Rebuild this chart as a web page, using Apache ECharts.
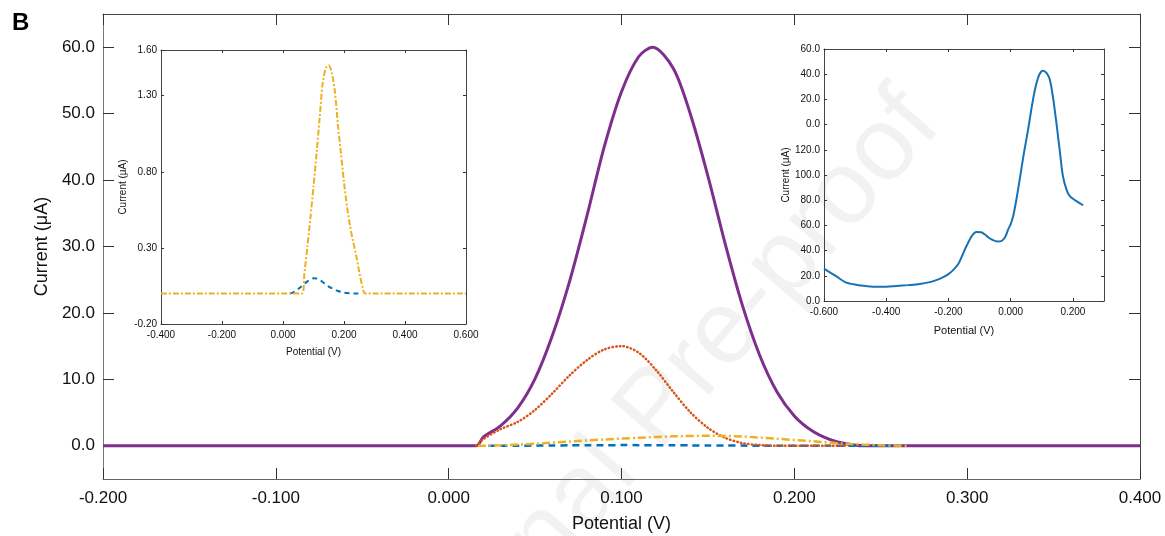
<!DOCTYPE html>
<html><head><meta charset="utf-8">
<script src="https://cdn.jsdelivr.net/npm/echarts@6/dist/echarts.min.js"></script>
<style>html,body{margin:0;padding:0;background:#fff}#c{width:1165px;height:536px}</style>
</head><body><div id="c"></div>
<script>
// ---------- tick labels ----------
const mainXTicks = [-0.2, -0.1, 0, 0.1, 0.2, 0.3, 0.4];
const mainYTicks = [0, 10, 20, 30, 40, 50, 60];
const insetLeftXTicks = [-0.4, -0.2, 0, 0.2, 0.4, 0.6];
const insetLeftYTicks = [-0.2, 0.3, 0.8, 1.3, 1.6];
const insetRightXTicks = [-0.6, -0.4, -0.2, 0, 0.2];
const insetRightYTicks = [0, 20, 40, 60, 80, 100, 120, 140, 160, 180, 200];
const insetRightYTickLabels = ['0.0','20.0','40.0','60.0','80.0','100.0','120.0','0.0','20.0','40.0','60.0'];

// ---------- main panel series ----------
const purplePotential = [-0.2, 0.016, 0.02, 0.03, 0.04, 0.05, 0.06, 0.07, 0.08, 0.09, 0.10, 0.11, 0.118, 0.13, 0.14, 0.15, 0.16, 0.17, 0.18, 0.19, 0.20, 0.21, 0.22, 0.23, 0.24, 0.4];
const purpleCurrent   = [0, 0, 1.3, 3.0, 5.7, 10.1, 16.6, 24.8, 34.6, 45.0, 53.3, 58.6, 60.0, 56.8, 49.8, 40.6, 30.4, 21.1, 13.6, 8.1, 4.5, 2.3, 1.0, 0.3, 0, 0];

const orangePotential = [0.016, 0.02, 0.03, 0.04, 0.05, 0.06, 0.07, 0.08, 0.09, 0.10, 0.11, 0.12, 0.13, 0.14, 0.15, 0.16, 0.17, 0.18, 0.19, 0.20, 0.21, 0.22, 0.23];
const orangeCurrent   = [0, 1.0, 2.5, 3.6, 5.4, 7.9, 10.6, 12.9, 14.5, 15.0, 14.0, 11.4, 8.1, 5.0, 2.7, 1.2, 0.4, 0.1, 0, 0, 0, 0, 0];

const yellowPotential = [0.017, 0.03, 0.05, 0.07, 0.09, 0.11, 0.13, 0.15, 0.17, 0.19, 0.21, 0.23, 0.25, 0.265];
const yellowCurrent   = [0, 0.08, 0.3, 0.65, 0.95, 1.2, 1.42, 1.5, 1.4, 1.05, 0.7, 0.3, 0.08, 0];

const bluePotential = [0.023, 0.03, 0.04, 0.05, 0.06, 0.07, 0.08, 0.09, 0.10, 0.11, 0.12, 0.13, 0.14, 0.15, 0.16, 0.17, 0.18, 0.19, 0.20, 0.22, 0.24, 0.26];
const blueCurrent   = [0, 0.005, 0.015, 0.03, 0.046, 0.064, 0.08, 0.093, 0.10, 0.099, 0.09, 0.076, 0.06, 0.046, 0.035, 0.025, 0.017, 0.011, 0.006, 0.002, 0, 0];

// ---------- left inset (zoom of low currents) ----------
const insetYellowPotential = [-0.4, 0.062, 0.07, 0.08, 0.09, 0.10, 0.11, 0.12, 0.13, 0.14, 0.15, 0.16, 0.17, 0.18, 0.19, 0.20, 0.21, 0.22, 0.23, 0.24, 0.25, 0.26, 0.27, 0.6];
const insetYellowCurrent   = [0, 0, 0.13, 0.31, 0.50, 0.70, 0.92, 1.15, 1.38, 1.48, 1.50, 1.45, 1.33, 1.11, 0.92, 0.73, 0.57, 0.44, 0.34, 0.25, 0.14, 0.05, 0, 0];

// ---------- right inset (raw voltammogram, axis value scale 0-200) ----------
const rawPotential = [-0.600, -0.560, -0.528, -0.480, -0.442, -0.400, -0.367, -0.330, -0.292, -0.260, -0.239, -0.220, -0.201, -0.185, -0.169, -0.155, -0.142, -0.125, -0.110, -0.095, -0.083, -0.070, -0.057, -0.043, -0.030, -0.018, -0.008, 0.000, 0.008, 0.018, 0.029, 0.042, 0.056, 0.067, 0.078, 0.090, 0.100, 0.104, 0.115, 0.126, 0.137, 0.147, 0.158, 0.168, 0.180, 0.190, 0.210, 0.233];
const rawCurrent   = [25.7, 19.5, 14.6, 12.3, 11.4, 11.3, 11.9, 12.6, 13.5, 15.0, 16.6, 18.5, 21.1, 24.5, 29.1, 36.5, 43.6, 51.5, 54.7, 54.5, 52.8, 50.2, 48.3, 47.2, 47.5, 50.5, 56.8, 61.0, 67.3, 80.0, 96.4, 116.5, 136.0, 153.0, 167.7, 178.5, 182.5, 182.7, 181.0, 175.6, 160.0, 141.3, 119.0, 99.0, 88.0, 83.2, 79.5, 76.0];

const zip = (xs, ys) => xs.map((x, i) => [x, ys[i]]);
const FONT = '"Liberation Sans", Arial, sans-serif';
const C = { blue: '#0072BD', orange: '#D95319', yellow: '#EDB120', purple: '#7E2F8E' };

function axis(kind, o) {
  const a = {
    type: 'value', gridIndex: o.grid, min: o.min, max: o.max, position: o.pos,
    axisLine: { show: true, onZero: false, lineStyle: { color: o.lineColor || '#555', width: 1 } },
    axisTick: { show: true, inside: true, length: o.tick, customValues: o.ticks, lineStyle: { color: '#333', width: 1 } },
    axisLabel: o.labels ? { show: true, customValues: o.ticks, formatter: o.fmt, fontSize: o.fs, fontFamily: FONT, color: '#111', margin: o.margin } : { show: false },
    splitLine: { show: false }
  };
  if (o.name) {
    a.name = o.name; a.nameLocation = 'middle'; a.nameGap = o.nameGap;
    a.nameTextStyle = { fontSize: o.nfs, fontFamily: FONT, color: '#111' };
  }
  return a;
}

const chart = echarts.init(document.getElementById('c'), null, { renderer: 'canvas' });
const f3 = v => v.toFixed(3), f1 = v => v.toFixed(1), f2 = v => v.toFixed(2);

chart.setOption({
  animation: false,
  backgroundColor: '#fff',
  grid: [
    { left: 103, top: 14, width: 1037, height: 465, outerBoundsMode: 'none' },
    { left: 161, top: 50, width: 305, height: 274, outerBoundsMode: 'none' },
    { left: 824, top: 49, width: 280, height: 252, outerBoundsMode: 'none' }
  ],
  xAxis: [
    axis('x', { grid: 0, min: -0.2, max: 0.4, pos: 'bottom', tick: 11, ticks: mainXTicks, labels: true, fmt: f3, fs: 17, margin: 11, lineColor: '#666', name: 'Potential (V)', nameGap: 36, nfs: 18 }),
    axis('x', { grid: 0, min: -0.2, max: 0.4, pos: 'top', tick: 11, ticks: mainXTicks, labels: false, lineColor: '#444' }),
    axis('x', { grid: 1, min: -0.4, max: 0.6, pos: 'bottom', tick: 3, ticks: insetLeftXTicks, labels: true, fmt: f3, fs: 10, margin: 6, lineColor: '#444', name: 'Potential (V)', nameGap: 23, nfs: 10 }),
    axis('x', { grid: 1, min: -0.4, max: 0.6, pos: 'top', tick: 3, ticks: insetLeftXTicks, labels: false, lineColor: '#444' }),
    axis('x', { grid: 2, min: -0.6, max: 0.3, pos: 'bottom', tick: 3, ticks: insetRightXTicks, labels: true, fmt: f3, fs: 10, margin: 6, lineColor: '#444', name: 'Potential (V)', nameGap: 24, nfs: 11 }),
    axis('x', { grid: 2, min: -0.6, max: 0.3, pos: 'top', tick: 3, ticks: insetRightXTicks, labels: false, lineColor: '#444' })
  ],
  yAxis: [
    axis('y', { grid: 0, min: -5, max: 65, pos: 'left', tick: 11, ticks: mainYTicks, labels: true, fmt: f1, fs: 17, margin: 8, lineColor: '#777', name: 'Current (μA)', nameGap: 46, nfs: 18 }),
    axis('y', { grid: 0, min: -5, max: 65, pos: 'right', tick: 11, ticks: mainYTicks, labels: false, lineColor: '#444' }),
    axis('y', { grid: 1, min: -0.2, max: 1.6, pos: 'left', tick: 3, ticks: insetLeftYTicks, labels: true, fmt: f2, fs: 10, margin: 4, lineColor: '#444', name: 'Current (μA)', nameGap: 33, nfs: 10 }),
    axis('y', { grid: 1, min: -0.2, max: 1.6, pos: 'right', tick: 3, ticks: insetLeftYTicks, labels: false, lineColor: '#444' }),
    axis('y', { grid: 2, min: 0, max: 200, pos: 'left', tick: 3, ticks: insetRightYTicks, labels: true, fmt: v => insetRightYTickLabels[insetRightYTicks.indexOf(v)], fs: 10, margin: 4, lineColor: '#444', name: 'Current (μA)', nameGap: 33, nfs: 10 }),
    axis('y', { grid: 2, min: 0, max: 200, pos: 'right', tick: 3, ticks: insetRightYTicks, labels: false, lineColor: '#444' })
  ],
  graphic: [
    { type: 'text', left: 12, top: 11, style: { text: 'B', font: 'bold 24px ' + FONT, fill: '#000' } },
    { type: 'text', x: 658, y: 410, rotation: 49 * Math.PI / 180, z: -10,
      style: { text: 'Journal Pre-proof', font: '104px ' + FONT, fill: 'rgba(0,0,0,0.05)', align: 'center', verticalAlign: 'middle' } }
  ],
  series: [
    { type: 'line', xAxisIndex: 0, yAxisIndex: 0, data: zip(purplePotential, purpleCurrent), showSymbol: false, smooth: 0.3, lineStyle: { color: C.purple, width: 3 }, z: 2 },
    { type: 'line', xAxisIndex: 0, yAxisIndex: 0, data: zip(bluePotential, blueCurrent), showSymbol: false, smooth: 0.3, lineStyle: { color: C.blue, width: 2.5, type: [7, 5] }, z: 3 },
    { type: 'line', xAxisIndex: 0, yAxisIndex: 0, data: zip(orangePotential, orangeCurrent), showSymbol: false, smooth: 0.3, lineStyle: { color: C.orange, width: 2.5, type: [0.5, 3.2], cap: 'round' }, z: 4 },
    { type: 'line', xAxisIndex: 0, yAxisIndex: 0, data: zip(yellowPotential, yellowCurrent), showSymbol: false, smooth: 0.3, lineStyle: { color: C.yellow, width: 2.5, type: [8, 3, 2, 3] }, z: 5 },
    { type: 'line', xAxisIndex: 2, yAxisIndex: 2, data: zip(bluePotential, blueCurrent), showSymbol: false, smooth: 0.3, lineStyle: { color: C.blue, width: 2, type: [5, 4] }, z: 3 },
    { type: 'line', xAxisIndex: 2, yAxisIndex: 2, data: zip(insetYellowPotential, insetYellowCurrent), showSymbol: false, smooth: 0.25, lineStyle: { color: C.yellow, width: 2, type: [6, 2, 2, 2] }, z: 4 },
    { type: 'line', xAxisIndex: 4, yAxisIndex: 4, data: zip(rawPotential, rawCurrent), showSymbol: false, smooth: 0.3, lineStyle: { color: '#1672B4', width: 2 }, z: 3 }
  ]
});
</script></body></html>
